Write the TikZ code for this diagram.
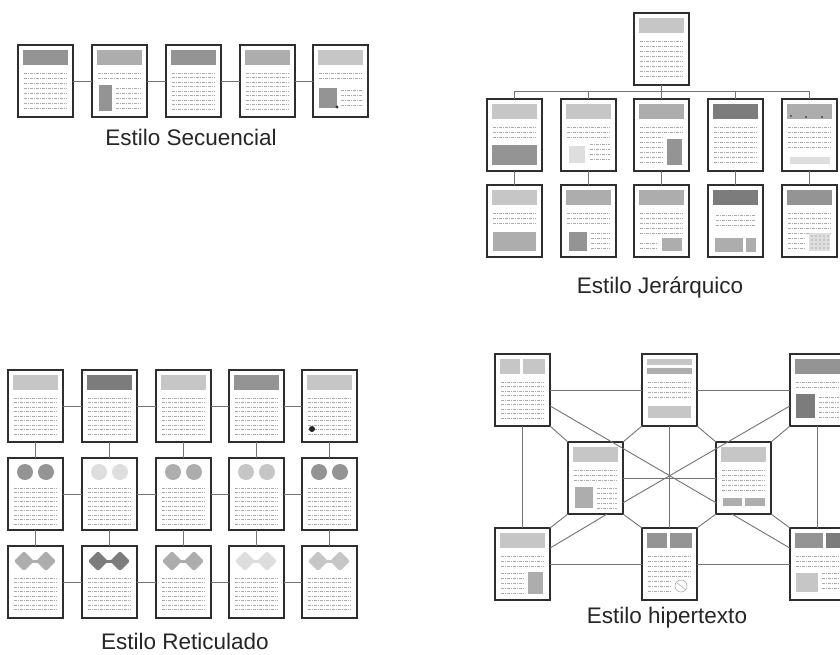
\documentclass[tikz,border=0pt]{standalone}
\usepackage{fontspec}
\setmainfont{Liberation Sans}
\definecolor{g1}{HTML}{DEDEDE}
\definecolor{g2}{HTML}{C6C6C6}
\definecolor{g3}{HTML}{ADADAD}
\definecolor{g4}{HTML}{949494}
\definecolor{g5}{HTML}{7C7C7C}
\tikzset{
  page/.style={draw=black!82, line width=2pt, fill=white, minimum width=55pt,
    minimum height=72pt, inner sep=0pt, outer sep=0pt, anchor=north west},
  link/.style={draw=black!55, line width=0.9pt},
  tline/.style={draw=black!33, line width=0.6pt,
    dash pattern=on 3pt off 0.7pt on 1.6pt off 0.7pt},
  caption/.style={font=\fontsize{22.5}{26}\selectfont, text=black!85, anchor=base}
}
% a page: name, left, top, contents drawn relative to its top-left corner
\newcommand\pg[4]{%
  \node[page] (#1) at (#2,#3) {};
  \begin{scope}[shift={(#1.north west)}]#4\end{scope}}
% header block
\newcommand\hd[1]{\fill[#1] (5,5) rectangle (50,20);}
% lines of text: from x1 to x2 at the listed heights
\newcommand\tx[3]{\foreach \ly in {#3}{\draw[tline] (#1,\ly) -- (#2,\ly);}}
% picture block
\newcommand\im[5]{\fill[#1] (#2,#3) rectangle (#4,#5);}
% pair of round blobs
\newcommand\blobs[1]{\fill[#1] (17,14) circle (8); \fill[#1] (38,14) circle (8);}
% pair of joined diamonds
\newcommand\dia[3]{\fill[#1,rounded corners=2pt] (#2-10,#3) -- (#2,#3-10) -- (#2+10,#3) -- (#2,#3+10) -- cycle;}
\newcommand\diamonds[1]{\dia{#1}{16}{15}\dia{#1}{38}{15}\fill[#1] (16,13.5) rectangle (38,16.5);}

\begin{document}
\begin{tikzpicture}[x=1pt,y=-1pt]
\useasboundingbox[fill=white] (0,0) rectangle (840,655);

% ---------------- sequential ----------------
\pg{s1}{18}{45}{\hd{g4}\tx{6}{49}{28,33,...,63}}
\pg{s2}{92}{45}{\hd{g3}\tx{6}{49}{28,33}\im{g4}{7}{40}{20}{66}\tx{24}{49}{43,48,...,63}}
\pg{s3}{166}{45}{\hd{g4}\tx{6}{49}{28,32.5,...,65}}
\pg{s4}{240}{45}{\hd{g3}\tx{6}{49}{28,32.5,...,65}}
\pg{s5}{313}{45}{\hd{g2}\tx{6}{49}{28,33}\im{g4}{6}{43}{24}{63}\fill[black!80] (24,62) circle (1.6);\tx{28}{49}{45,50,...,62}}
\foreach \a/\b in {s1/s2,s2/s3,s3/s4,s4/s5}{\draw[link] (\a.east) -- (\b.west);}
\node[caption] (capS) at (191,146) {Estilo Secuencial};

% ---------------- hierarchical ----------------
\pg{jt}{634}{13}{\hd{g2}\tx{6}{49}{28,33,...,66}}
\pg{ja1}{487}{99}{\hd{g2}\tx{6}{49}{28,33,38}\im{g4}{5}{46}{50}{66}}
\pg{ja2}{561}{99}{\hd{g2}\tx{6}{49}{28,33,38}\im{g1}{8}{47}{24}{64}\tx{29}{49}{45,50,...,64}}
\pg{ja3}{634}{99}{\hd{g3}\tx{6}{49}{28,33}\tx{6}{30}{38,43,...,63}\im{g4}{33}{40}{48}{66}}
\pg{ja4}{708}{99}{\hd{g5}\tx{6}{49}{28,33,...,65}}
\pg{ja5}{782}{99}{\hd{g3}\fill[black!70] (9,17) circle (1.2) (24,18) circle (1.2) (40,18) circle (1.2);\tx{6}{49}{28,33,...,48}\im{g1}{8}{58}{48}{65}}
\pg{jb1}{487}{185}{\hd{g2}\tx{6}{49}{28,33,38}\im{g3}{6}{47}{49}{66}}
\pg{jb2}{561}{185}{\hd{g3}\tx{6}{49}{28,33,38}\im{g4}{8}{47}{26}{66}\tx{30}{49}{48,53,...,63}}
\pg{jb3}{634}{185}{\hd{g3}\tx{6}{49}{28,33,...,48}\tx{6}{24}{58,63}\im{g3}{28}{53}{48}{66}}
\pg{jb4}{708}{185}{\hd{g5}\tx{8}{47}{30,35,40}\im{g3}{7}{53}{35}{67}\im{g3}{38}{53}{48}{67}}
\pg{jb5}{782}{185}{\hd{g4}\tx{6}{49}{28,33,...,48}\tx{6}{24}{53,58,63}\im{g1}{27}{48}{48}{66}
  \foreach \cx in {29,33,...,45}{\foreach \cy in {50,54,...,62}{\fill[g2] (\cx,\cy) rectangle ++(2,2);}}}
\foreach \i in {1,...,5}{
  \draw[link] (jt.south) -- ++(0,6) -| (ja\i.north);
  \draw[link] (ja\i.south) -- (jb\i.north);
}
\node[caption] (capJ) at (660,293) {Estilo Jerárquico};

% ---------------- grid ----------------
\pg{r11}{8}{370}{\hd{g2}\tx{6}{49}{28,32.5,...,66}}
\pg{r12}{82}{370}{\hd{g5}\tx{6}{49}{28,32.5,...,66}}
\pg{r13}{156}{370}{\hd{g2}\tx{6}{49}{28,32.5,...,66}}
\pg{r14}{229}{370}{\hd{g4}\tx{6}{49}{28,32.5,...,66}}
\pg{r15}{302}{370}{\hd{g2}\tx{6}{49}{28,32.5,...,66}\fill[black!85] (10,59) circle (3);}
\pg{r21}{8}{458}{\blobs{g4}\tx{6}{49}{30,34.5,...,66}}
\pg{r22}{82}{458}{\blobs{g1}\tx{6}{49}{30,34.5,...,66}}
\pg{r23}{156}{458}{\blobs{g3}\tx{6}{49}{30,34.5,...,66}}
\pg{r24}{229}{458}{\blobs{g2}\tx{6}{49}{30,34.5,...,66}}
\pg{r25}{302}{458}{\blobs{g4}\tx{6}{49}{30,34.5,...,66}}
\pg{r31}{8}{546}{\diamonds{g3}\tx{6}{49}{32,36.5,...,66}}
\pg{r32}{82}{546}{\diamonds{g5}\tx{6}{49}{32,36.5,...,66}}
\pg{r33}{156}{546}{\diamonds{g3}\tx{6}{49}{32,36.5,...,66}}
\pg{r34}{229}{546}{\diamonds{g1}\tx{6}{49}{32,36.5,...,66}}
\pg{r35}{302}{546}{\diamonds{g2}\tx{6}{49}{32,36.5,...,66}}
\foreach \r in {1,2,3}{
  \foreach \a/\b in {1/2,2/3,3/4,4/5}{\draw[link] (r\r\a.east) -- (r\r\b.west);}}
\foreach \c in {1,...,5}{
  \draw[link] (r1\c.south) -- (r2\c.north);
  \draw[link] (r2\c.south) -- (r3\c.north);}
\node[caption] (capR) at (185,649) {Estilo Reticulado};

% ---------------- hypertext ----------------
\pg{tl}{495}{354}{\im{g2}{5}{5}{25}{20}\im{g2}{28}{5}{50}{20}\tx{6}{49}{28,32.5,...,66}}
\pg{tm}{642}{354}{\im{g2}{5}{5}{50}{11}\im{g3}{5}{14}{50}{20}\tx{6}{49}{28,33,38,43}\im{g2}{6}{52}{49}{64}}
\pg{tr}{790}{354}{\hd{g4}\tx{6}{49}{28,33}\im{g5}{6}{40}{25}{64}\tx{29}{49}{43,48,...,63}}
\pg{ml}{568}{442}{\hd{g2}\tx{6}{49}{28,33,38}\im{g3}{7}{45}{25}{66}\tx{29}{49}{46,51,...,66}}
\pg{mr}{716}{442}{\hd{g2}\tx{6}{49}{28,33,...,48}\im{g3}{7}{56}{26}{64}\im{g3}{29}{56}{49}{64}}
\pg{bl}{495}{528}{\hd{g2}\tx{6}{49}{28,33,38}\im{g3}{33}{44}{48}{66}\tx{6}{29}{45,50,...,65}}
\pg{bm}{642}{528}{\im{g4}{5}{5}{25}{20}\im{g4}{28}{5}{50}{20}\tx{6}{49}{28,33,...,48}\tx{6}{28}{53,58,63}
  \draw[g3,line width=0.6pt] (39,58) circle (6) (35,55) -- (44,62);}
\pg{br}{790}{528}{\im{g4}{5}{5}{33}{20}\im{g5}{36}{5}{50}{20}\tx{6}{49}{28,33,38}\im{g2}{6}{45}{28}{64}\tx{32}{49}{45,50,...,63}}
% links along the outer frame and through the middle
\draw[link] (tl.east) -- (tm.west);
\draw[link] (tm.east) -- (tr.west);
\draw[link] (bl.east) -- (bm.west);
\draw[link] (bm.east) -- (br.west);
\draw[link] (tl.south) -- (bl.north);
\draw[link] (tr.south) -- (br.north);
\draw[link] (tm.south) -- (bm.north);
\draw[link] (ml.east) -- (mr.west);
% short links to the two middle pages
\draw[link] (tl.south east) -- (ml.north west);
\draw[link] (tm.south west) -- (ml.north east);
\draw[link] (tm.south east) -- (mr.north west);
\draw[link] (tr.south west) -- (mr.north east);
\draw[link] (bl.north east) -- (ml.south west);
\draw[link] (bm.north west) -- (ml.south east);
\draw[link] (bm.north east) -- (mr.south west);
\draw[link] (br.north west) -- (mr.south east);
% long diagonals
\draw[link] (tl.-30) -- (mr.222);
\draw[link] (tr.210) -- (ml.-42);
\draw[link] (bl.30) -- (ml.-72);
\draw[link] (br.150) -- (mr.252);
\node[caption] (capH) at (667,623) {Estilo hipertexto};
\end{tikzpicture}
\end{document}
